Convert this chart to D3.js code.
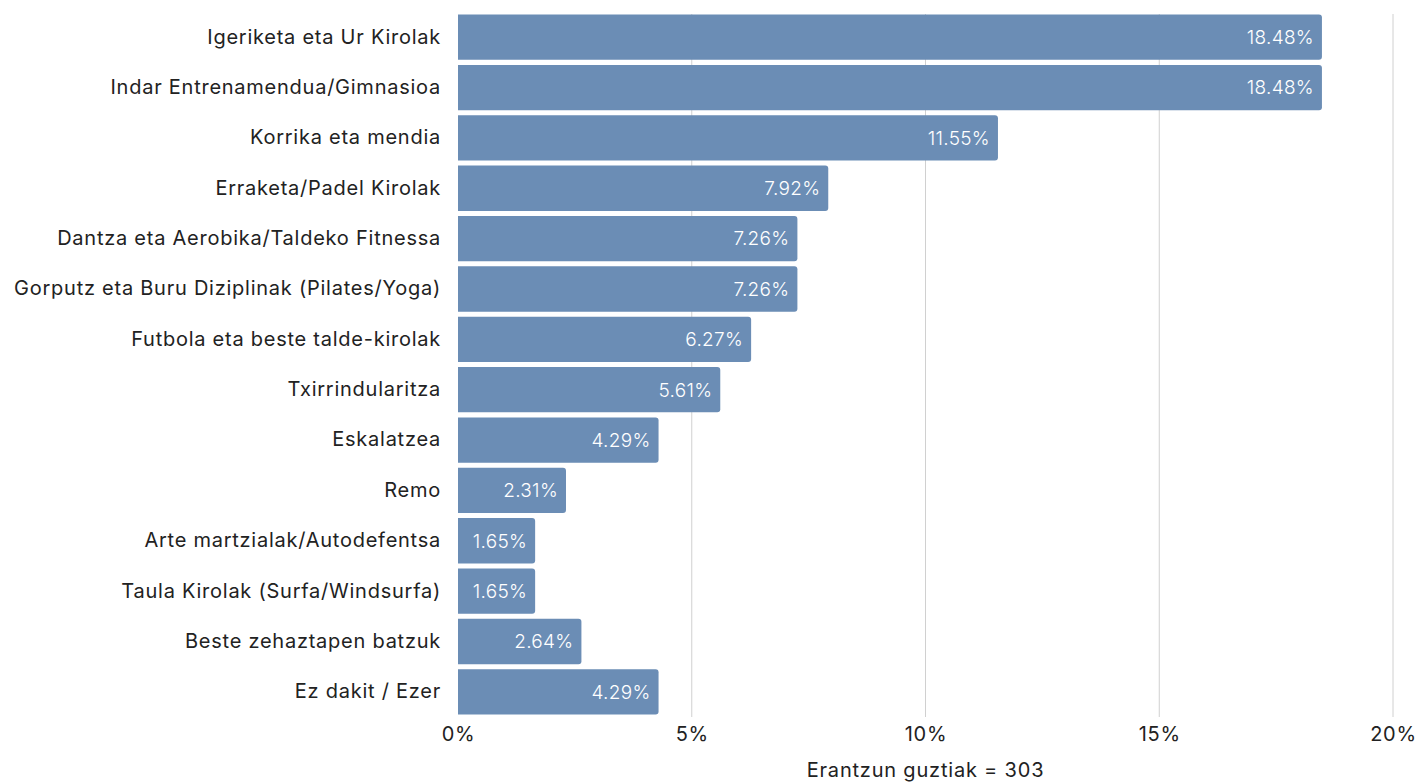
<!DOCTYPE html>
<html><head><meta charset="utf-8">
<script src="https://cdn.jsdelivr.net/npm/d3@7"></script>
<style>body{margin:0;background:#fff;} text{font-family:Inter, "DejaVu Sans", sans-serif;}</style>
</head><body><svg id="c" width="1419" height="782"></svg>
<script>
const categories = ["Igeriketa eta Ur Kirolak","Indar Entrenamendua/Gimnasioa","Korrika eta mendia","Erraketa/Padel Kirolak","Dantza eta Aerobika/Taldeko Fitnessa","Gorputz eta Buru Diziplinak (Pilates/Yoga)","Futbola eta beste talde-kirolak","Txirrindularitza","Eskalatzea","Remo","Arte martzialak/Autodefentsa","Taula Kirolak (Surfa/Windsurfa)","Beste zehaztapen batzuk","Ez dakit / Ezer"];
const values = [18.48,18.48,11.55,7.92,7.26,7.26,6.27,5.61,4.29,2.31,1.65,1.65,2.64,4.29];
const ticks = [0,5,10,15,20];
const axisTitle = "Erantzun guztiak = 303";

const svg = d3.select("#c");
const m = {l:458, r:1393, t:12, b:717};
const x = d3.scaleLinear().domain([0,20]).range([m.l, m.r]);
const y = d3.scaleBand().domain(categories).range([m.t, m.b]).paddingInner(0.1).paddingOuter(0.05);

svg.append("g").selectAll("line").data(ticks.slice(1)).join("line")
  .attr("x1",d=>x(d)).attr("x2",d=>x(d)).attr("y1",m.t+2).attr("y2",m.b)
  .attr("stroke","#d0d0d0").attr("stroke-width",1);

const r = 3;
svg.append("g").selectAll("path").data(categories).join("path")
  .attr("fill","#6b8db5")
  .attr("d",(c,i)=>{
    const x0=x(0), x1=x(values[i]), y0=y(c), h=y.bandwidth();
    return `M${x0},${y0}H${x1-r}Q${x1},${y0} ${x1},${y0+r}V${y0+h-r}Q${x1},${y0+h} ${x1-r},${y0+h}H${x0}Z`;
  });

svg.append("g").selectAll("text").data(categories).join("text")
  .attr("x",(c,i)=>x(values[i])-8).attr("y",c=>y(c)+y.bandwidth()/2)
  .attr("dy","0.36em").attr("text-anchor","end").attr("fill","#fff")
  .attr("font-size",19).attr("font-weight",300).attr("letter-spacing","0.3px")
  .text((c,i)=>values[i].toFixed(2)+"%");

const ya = svg.append("g").attr("transform",`translate(${m.l},0)`)
  .call(d3.axisLeft(y).tickSize(0).tickPadding(17));
ya.select(".domain").remove();
ya.selectAll("text").attr("font-size",20).attr("fill","#222").attr("letter-spacing","0.75px")
  .style("font-family","Inter, sans-serif");

const xa = svg.append("g").attr("transform",`translate(0,${m.b})`)
  .call(d3.axisBottom(x).tickValues(ticks).tickSize(0).tickPadding(10).tickFormat(d=>d+"%"));
xa.select(".domain").remove();
xa.selectAll("text").attr("font-size",20).attr("fill","#222").attr("letter-spacing","0.7px")
  .style("font-family","Inter, sans-serif");

svg.append("text").attr("x",(m.l+m.r)/2).attr("y",777).attr("text-anchor","middle")
  .attr("font-size",20).attr("fill","#222").attr("letter-spacing","0.8px").text(axisTitle);
</script></body></html>
